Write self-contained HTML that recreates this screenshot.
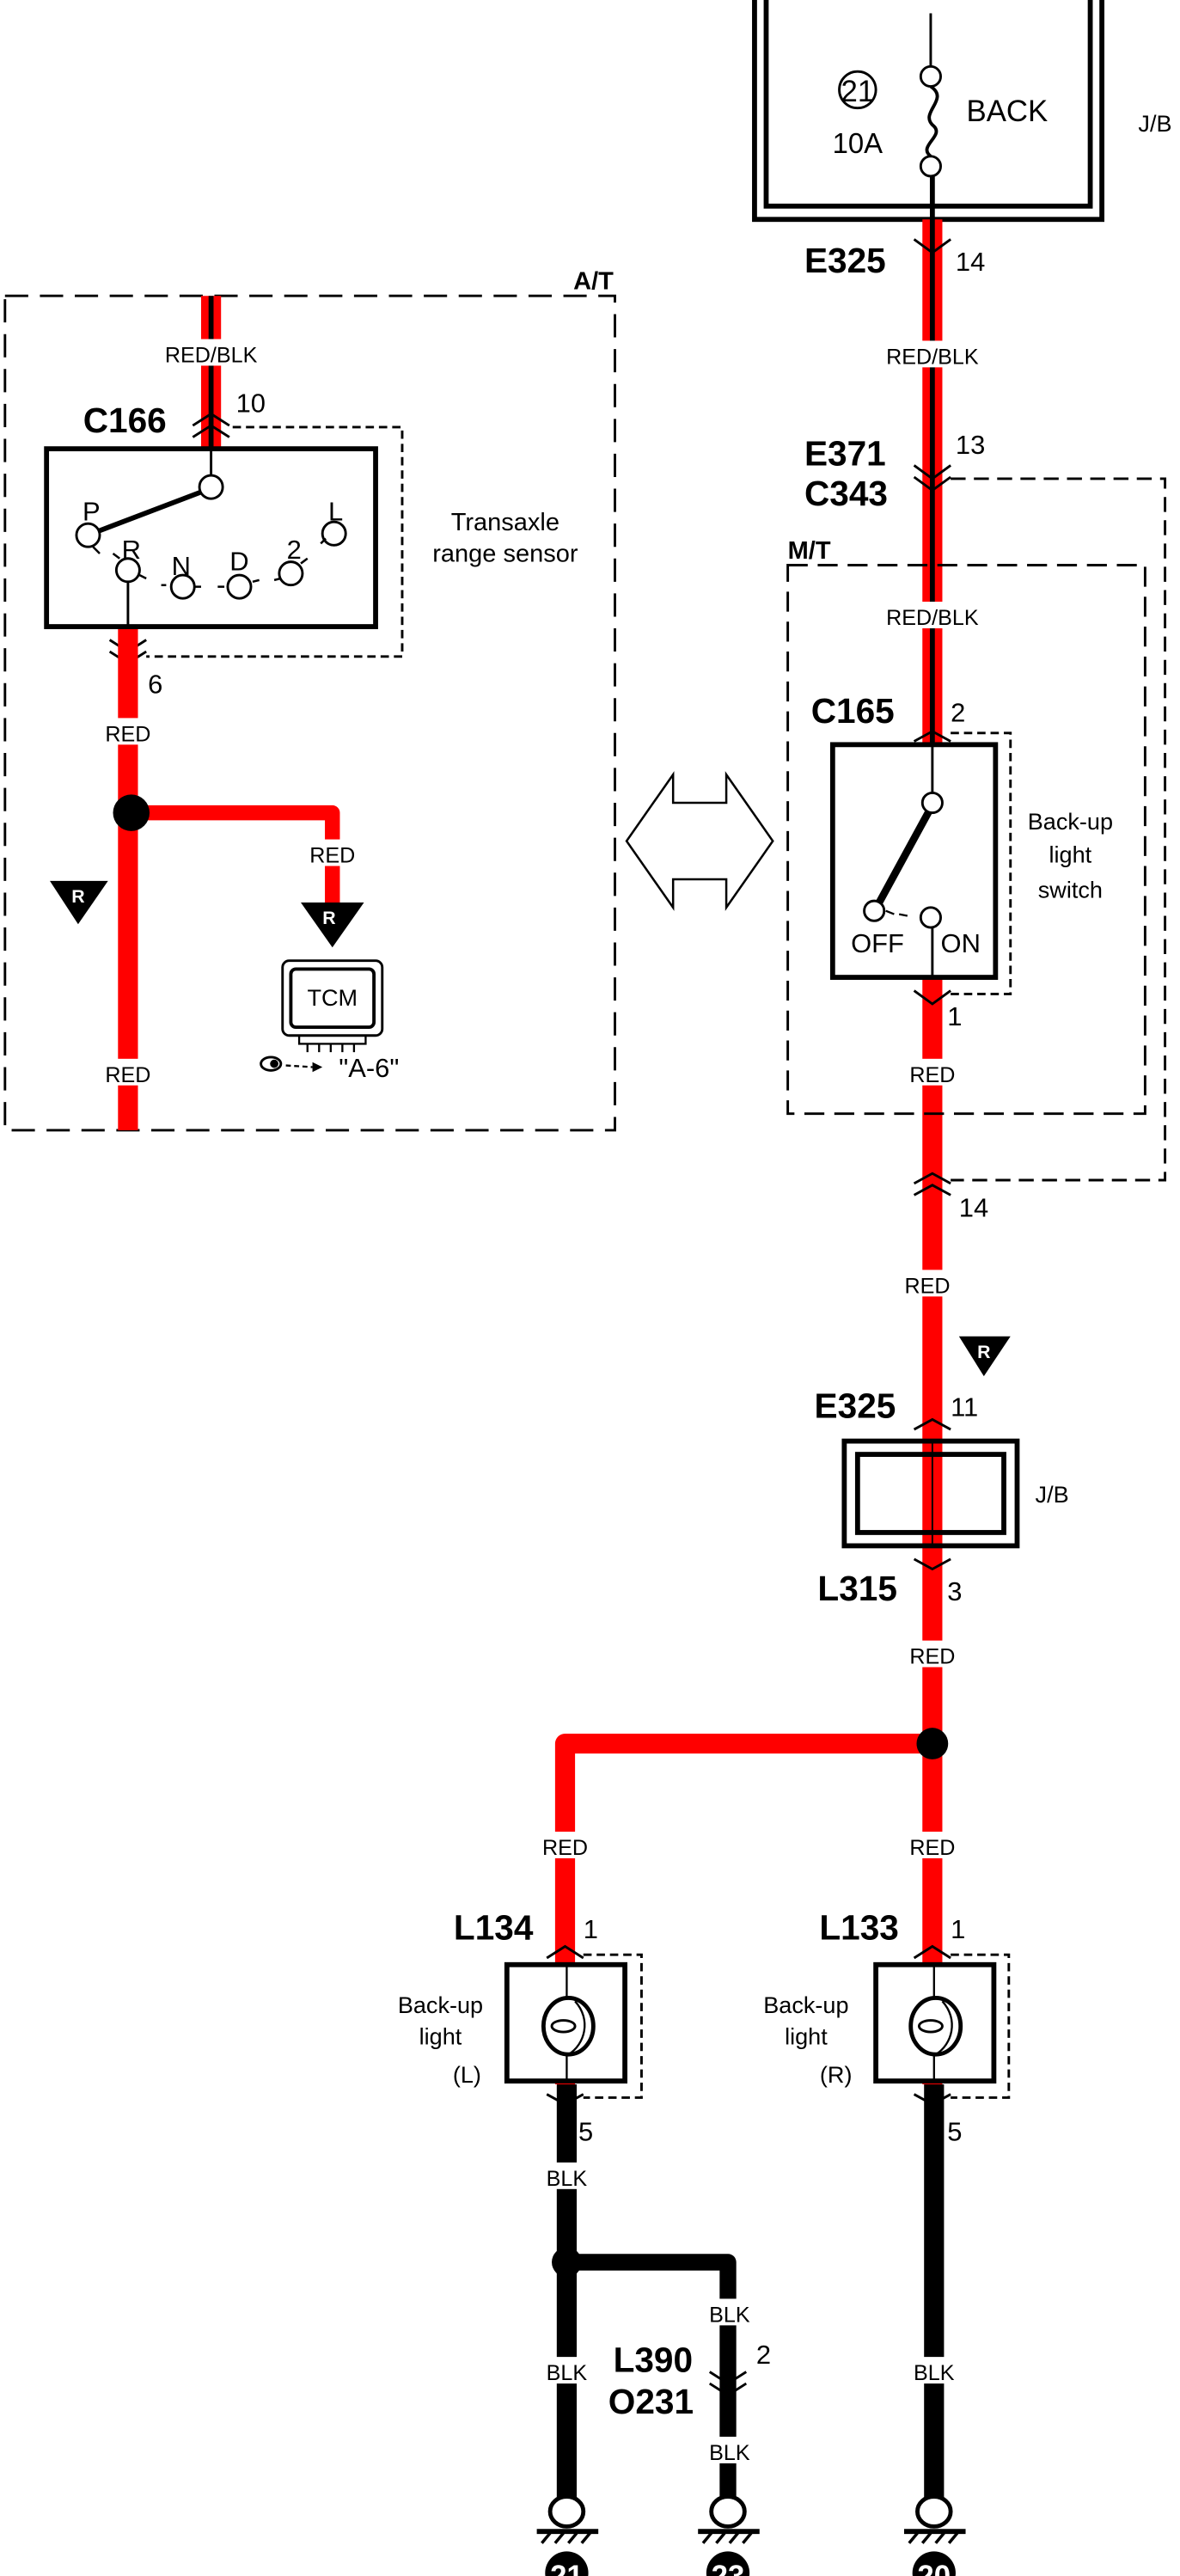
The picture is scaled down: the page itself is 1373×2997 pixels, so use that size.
<!DOCTYPE html>
<html><head><meta charset="utf-8"><style>
html,body{margin:0;padding:0;background:#fff}
svg{display:block}
text{font-family:"Liberation Sans",sans-serif;fill:#000}
.b{font-weight:bold;font-size:21px}
.n{font-size:16px}
.s{font-size:13px}
.m{font-size:14px}
</style></head><body>
<svg width="1373" height="2997" viewBox="0 0 710 1549.8" xmlns="http://www.w3.org/2000/svg">
<rect width="710" height="1550" fill="#fff"/>
<rect x="454" y="-10" width="209" height="142" fill="none" stroke="#000" stroke-width="3"/>
<rect x="461" y="-10" width="195" height="134" fill="none" stroke="#000" stroke-width="3"/>
<line x1="560" y1="8" x2="560" y2="40" stroke="#000" stroke-width="1.5"/>
<circle cx="560" cy="46" r="6" fill="#fff" stroke="#000" stroke-width="1.5"/>
<path d="M560 52 C572 60,552 68,562 76 C568 82,552 88,560 94" fill="none" stroke="#000" stroke-width="2"/>
<circle cx="560" cy="100" r="6" fill="#fff" stroke="#000" stroke-width="1.5"/>
<circle cx="516" cy="54" r="11" fill="none" stroke="#000" stroke-width="1.5"/>
<text x="516" y="61" class="n" text-anchor="middle" style="font-size:18px">21</text>
<text x="516" y="92" class="n" text-anchor="middle" style="font-size:17px">10A</text>
<text x="606" y="73" class="n" text-anchor="middle" style="font-size:18px">BACK</text>
<text x="695" y="79" class="m" text-anchor="middle">J/B</text>

<line x1="561" y1="132" x2="561" y2="1254" stroke="#f00" stroke-width="12"/>
<line x1="561" y1="106" x2="561" y2="588" stroke="#000" stroke-width="3"/>
<g fill="#fff">
<rect x="528" y="205" width="66" height="16"/>
<rect x="528" y="362" width="66" height="16"/>
<rect x="541" y="637" width="40" height="16"/>
<rect x="538" y="764" width="40" height="16"/>
<rect x="541" y="987" width="40" height="16"/>
<rect x="541" y="1102" width="40" height="16"/>
</g>
<text x="561" y="219" class="s" text-anchor="middle">RED/BLK</text>
<text x="561" y="376" class="s" text-anchor="middle">RED/BLK</text>
<text x="561" y="651" class="s" text-anchor="middle">RED</text>
<text x="558" y="778" class="s" text-anchor="middle">RED</text>
<text x="561" y="1001" class="s" text-anchor="middle">RED</text>
<text x="561" y="1116" class="s" text-anchor="middle">RED</text>
<g fill="none" stroke="#000" stroke-width="1.5">
<polyline points="550,144 561,152 572,144"/>
<polyline points="550,280 561,288 572,280"/>
<polyline points="550,287 561,295 572,287"/>
<polyline points="550,446 561,440 572,446"/>
<polyline points="550,596 561,604 572,596"/>
<polyline points="550,712 561,706 572,712"/>
<polyline points="550,719 561,713 572,719"/>
<polyline points="550,860 561,854 572,860"/>
<polyline points="550,938 561,944 572,938"/>
</g>
<text x="484" y="164" class="b">E325</text>
<text x="575" y="163" class="n">14</text>
<text x="484" y="280" class="b">E371</text>
<text x="484" y="304" class="b">C343</text>
<text x="575" y="273" class="n">13</text>
<polyline points="572,288 701,288 701,710 572,710" fill="none" stroke="#000" stroke-width="1.5" stroke-dasharray="9,5"/>
<rect x="474" y="340" width="215" height="330" fill="none" stroke="#000" stroke-width="1.5" stroke-dasharray="12,6"/>
<text x="474" y="336" class="n" style="font-weight:bold;font-size:15px">M/T</text>
<text x="488" y="435" class="b">C165</text>
<text x="572" y="434" class="n">2</text>
<polyline points="572,441 608,441 608,598 572,598" fill="none" stroke="#000" stroke-width="1.5" stroke-dasharray="5,3"/>
<rect x="501" y="448" width="98" height="140" fill="#fff" stroke="#000" stroke-width="3"/>
<line x1="561" y1="448" x2="561" y2="477" stroke="#000" stroke-width="1.5"/>
<line x1="561" y1="558" x2="561" y2="588" stroke="#000" stroke-width="1.5"/>
<line x1="559" y1="488" x2="529" y2="543" stroke="#000" stroke-width="4.5"/>
<circle cx="561" cy="483" r="6" fill="#fff" stroke="#000" stroke-width="1.5"/>
<circle cx="526" cy="548" r="6" fill="#fff" stroke="#000" stroke-width="1.5"/>
<circle cx="560" cy="552" r="6" fill="#fff" stroke="#000" stroke-width="1.5"/>
<path d="M533 548 L538 550 M541 550 L546 551" stroke="#000" stroke-width="1.2"/>
<text x="528" y="573" class="n" text-anchor="middle">OFF</text>
<text x="578" y="573" class="n" text-anchor="middle">ON</text>
<text x="644" y="499" class="m" text-anchor="middle">Back-up</text>
<text x="644" y="519" class="m" text-anchor="middle">light</text>
<text x="644" y="540" class="m" text-anchor="middle">switch</text>
<text x="570" y="617" class="n">1</text>
<text x="577" y="732" class="n">14</text>
<polygon points="577,804 608,804 592,828" fill="#000"/>
<text x="592" y="817" style="fill:#fff;font-weight:bold;font-size:11px" text-anchor="middle">R</text>
<text x="490" y="853" class="b">E325</text>
<text x="572" y="852" class="n">11</text>
<rect x="508" y="867" width="104" height="63" fill="none" stroke="#000" stroke-width="3"/>
<rect x="516" y="875" width="88" height="47" fill="none" stroke="#000" stroke-width="3"/>
<line x1="561" y1="867" x2="561" y2="930" stroke="#000" stroke-width="1"/>
<text x="633" y="904" class="m" text-anchor="middle">J/B</text>
<text x="492" y="963" class="b">L315</text>
<text x="570" y="963" class="n">3</text>
<path d="M561 1049 L340 1049 L340 1254" fill="none" stroke="#f00" stroke-width="12" stroke-linejoin="round"/>
<rect x="320" y="1102" width="40" height="16" fill="#fff"/>
<text x="340" y="1116" class="s" text-anchor="middle">RED</text>
<circle cx="561" cy="1049" r="9.5" fill="#000"/>
<text x="273" y="1167" class="b">L134</text>
<text x="351" y="1166" class="n">1</text>
<text x="493" y="1167" class="b">L133</text>
<text x="572" y="1166" class="n">1</text>
<g fill="none" stroke="#000" stroke-width="1.5">
<polyline points="329,1178 340,1171 351,1178"/>
<polyline points="550,1178 561,1171 572,1178"/>
<polyline points="329,1260 340,1266 351,1260"/>
<polyline points="550,1260 561,1266 572,1260"/>
</g>
<polyline points="351,1176 386,1176 386,1262 351,1262" fill="none" stroke="#000" stroke-width="1.5" stroke-dasharray="5,3"/>
<polyline points="572,1176 607,1176 607,1262 572,1262" fill="none" stroke="#000" stroke-width="1.5" stroke-dasharray="5,3"/>
<line x1="341" y1="1254" x2="341" y2="1510" stroke="#000" stroke-width="12"/>
<line x1="562" y1="1254" x2="562" y2="1510" stroke="#000" stroke-width="12"/>
<path d="M341 1361 L438 1361 L438 1510" fill="none" stroke="#000" stroke-width="10" stroke-linejoin="round"/>
<circle cx="341" cy="1361" r="9" fill="#000"/>
<rect x="305" y="1182" width="71" height="70" fill="#fff" stroke="#000" stroke-width="3"/>
<rect x="527" y="1182" width="71" height="70" fill="#fff" stroke="#000" stroke-width="3"/>
<g stroke="#000" fill="none">
<line x1="341" y1="1182" x2="341" y2="1252" stroke-width="1.2"/>
<line x1="562" y1="1182" x2="562" y2="1252" stroke-width="1.2"/>
<ellipse cx="342" cy="1219" rx="15" ry="17" fill="#fff" stroke-width="2.5"/>
<ellipse cx="563" cy="1219" rx="15" ry="17" fill="#fff" stroke-width="2.5"/>
<ellipse cx="339" cy="1219" rx="7" ry="3.5" stroke-width="1.5"/>
<ellipse cx="560" cy="1219" rx="7" ry="3.5" stroke-width="1.5"/>
<path d="M346 1204 C356 1215,352 1230,342 1236" stroke-width="1.2"/>
<path d="M567 1204 C577 1215,573 1230,563 1236" stroke-width="1.2"/>
</g>
<text x="265" y="1211" class="m" text-anchor="middle">Back-up</text>
<text x="265" y="1230" class="m" text-anchor="middle">light</text>
<text x="281" y="1253" class="m" text-anchor="middle">(L)</text>
<text x="485" y="1211" class="m" text-anchor="middle">Back-up</text>
<text x="485" y="1230" class="m" text-anchor="middle">light</text>
<text x="503" y="1253" class="m" text-anchor="middle">(R)</text>
<text x="348" y="1288" class="n">5</text>
<text x="570" y="1288" class="n">5</text>
<g fill="#fff">
<rect x="322" y="1301" width="38" height="16"/>
<rect x="322" y="1418" width="38" height="16"/>
<rect x="421" y="1383" width="36" height="16"/>
<rect x="421" y="1466" width="36" height="16"/>
<rect x="543" y="1418" width="38" height="16"/>
</g>
<text x="341" y="1315" class="s" text-anchor="middle">BLK</text>
<text x="341" y="1432" class="s" text-anchor="middle">BLK</text>
<text x="439" y="1397" class="s" text-anchor="middle">BLK</text>
<text x="439" y="1480" class="s" text-anchor="middle">BLK</text>
<text x="562" y="1432" class="s" text-anchor="middle">BLK</text>
<text x="369" y="1427" class="b">L390</text>
<text x="366" y="1452" class="b">O231</text>
<text x="455" y="1422" class="n">2</text>
<g fill="none" stroke="#000" stroke-width="1.5">
<polyline points="427,1427 438,1434 449,1427"/>
<polyline points="427,1434 438,1441 449,1434"/>
</g>
<g stroke="#000" fill="#fff">
<ellipse cx="341" cy="1511" rx="10" ry="9" stroke-width="2.5"/>
<ellipse cx="438" cy="1511" rx="10" ry="9" stroke-width="2.5"/>
<ellipse cx="562" cy="1511" rx="10" ry="9" stroke-width="2.5"/>
<line x1="323" y1="1523" x2="360" y2="1523" stroke-width="3"/>
<line x1="420" y1="1523" x2="457" y2="1523" stroke-width="3"/>
<line x1="544" y1="1523" x2="581" y2="1523" stroke-width="3"/>
<path d="M331 1524 l-5 6 M339 1524 l-5 6 M347 1524 l-5 6 M355 1524 l-5 6 M428 1524 l-5 6 M436 1524 l-5 6 M444 1524 l-5 6 M452 1524 l-5 6 M552 1524 l-5 6 M560 1524 l-5 6 M568 1524 l-5 6 M576 1524 l-5 6" stroke-width="1.8"/>
</g>
<circle cx="341" cy="1548" r="13" fill="#000"/>
<circle cx="438" cy="1548" r="13" fill="#000"/>
<circle cx="562" cy="1548" r="13" fill="#000"/>
<text x="341" y="1556" text-anchor="middle" style="fill:#fff;font-weight:bold;font-size:18px">21</text>
<text x="438" y="1556" text-anchor="middle" style="fill:#fff;font-weight:bold;font-size:18px">23</text>
<text x="562" y="1556" text-anchor="middle" style="fill:#fff;font-weight:bold;font-size:18px">20</text>

<rect x="3" y="178" width="367" height="502" fill="none" stroke="#000" stroke-width="1.5" stroke-dasharray="14,7"/>
<text x="345" y="174" class="n" style="font-weight:bold;font-size:15px">A/T</text>
<line x1="127" y1="178" x2="127" y2="270" stroke="#f00" stroke-width="12"/>
<line x1="127" y1="178" x2="127" y2="287" stroke="#000" stroke-width="3"/>
<rect x="100" y="204" width="56" height="16" fill="#fff"/>
<text x="127" y="218" class="s" text-anchor="middle">RED/BLK</text>
<text x="50" y="260" class="b">C166</text>
<text x="142" y="248" class="n">10</text>
<g fill="none" stroke="#000" stroke-width="1.5">
<polyline points="116,256 127,249 138,256"/>
<polyline points="116,263 127,256 138,263"/>
<polyline points="66,385 77,392 88,385"/>
<polyline points="66,392 77,399 88,392"/>
</g>
<polyline points="140,257 242,257 242,395 88,395" fill="none" stroke="#000" stroke-width="1.5" stroke-dasharray="5,3"/>
<line x1="77" y1="373" x2="77" y2="680" stroke="#f00" stroke-width="12"/>
<rect x="28" y="270" width="198" height="107" fill="#fff" stroke="#000" stroke-width="3"/>
<line x1="127" y1="270" x2="127" y2="287" stroke="#000" stroke-width="1.5"/>
<line x1="77" y1="349" x2="77" y2="377" stroke="#000" stroke-width="1.5"/>
<line x1="121" y1="296" x2="58" y2="320" stroke="#000" stroke-width="3"/>
<g fill="#fff" stroke="#000" stroke-width="1.5">
<circle cx="127" cy="293" r="7"/>
<circle cx="53" cy="322" r="7"/>
<circle cx="77" cy="343" r="7"/>
<circle cx="110" cy="353" r="7"/>
<circle cx="144" cy="353" r="7"/>
<circle cx="175" cy="345" r="7"/>
<circle cx="201" cy="321" r="7"/>
</g>
<path d="M56 329 l4 4 M68 333 l4 3 M84 346 l4 2 M97 352 l3 0 M117 353 l4 0 M131 353 l4 0 M152 350 l4 -1 M165 349 l4 -1 M181 339 l4 -3 M193 327 l3 -3" stroke="#000" stroke-width="1.3"/>
<text x="55" y="313" class="n" text-anchor="middle">P</text>
<text x="79" y="336" class="n" text-anchor="middle">R</text>
<text x="109" y="346" class="n" text-anchor="middle">N</text>
<text x="144" y="343" class="n" text-anchor="middle">D</text>
<text x="177" y="336" class="n" text-anchor="middle">2</text>
<text x="202" y="313" class="n" text-anchor="middle">L</text>
<text x="304" y="319" class="m" text-anchor="middle" style="font-size:15px">Transaxle</text>
<text x="304" y="338" class="m" text-anchor="middle" style="font-size:15px">range sensor</text>
<text x="89" y="417" class="n">6</text>
<rect x="58" y="432" width="40" height="16" fill="#fff"/>
<text x="77" y="446" class="s" text-anchor="middle">RED</text>
<rect x="58" y="637" width="40" height="16" fill="#fff"/>
<text x="77" y="651" class="s" text-anchor="middle">RED</text>
<path d="M79 489 L200 489 L200 545" fill="none" stroke="#f00" stroke-width="9" stroke-linejoin="round"/>
<rect x="181" y="505" width="40" height="16" fill="#fff"/>
<text x="200" y="519" class="s" text-anchor="middle">RED</text>
<circle cx="79" cy="489" r="11" fill="#000"/>
<polygon points="30,530 65,530 47,556" fill="#000"/>
<text x="47" y="543" style="fill:#fff;font-weight:bold;font-size:11px" text-anchor="middle">R</text>
<polygon points="181,543 219,543 200,570" fill="#000"/>
<text x="198" y="556" style="fill:#fff;font-weight:bold;font-size:11px" text-anchor="middle">R</text>
<rect x="170" y="578" width="60" height="45" rx="4" fill="#fff" stroke="#000" stroke-width="1.5"/>
<rect x="175" y="583" width="50" height="35" rx="3" fill="#fff" stroke="#000" stroke-width="2"/>
<text x="200" y="605" class="m" text-anchor="middle">TCM</text>
<rect x="180" y="623" width="40" height="5" fill="none" stroke="#000" stroke-width="1.2"/>
<path d="M185 628 v5 M192 628 v5 M199 628 v5 M206 628 v5 M213 628 v5" stroke="#000" stroke-width="1.2"/>
<ellipse cx="163" cy="640" rx="6" ry="4" fill="none" stroke="#000" stroke-width="1.5"/>
<circle cx="165" cy="640" r="2.5" fill="#000"/>
<path d="M172 641 l16 1" stroke="#000" stroke-width="1.2" stroke-dasharray="3,2"/>
<polygon points="188,639 194,642 188,645" fill="#000"/>
<text x="222" y="648" class="n" text-anchor="middle">"A-6"</text>

<polygon points="377,506 405,466 405,483 437,483 437,466 465,506 437,546 437,529 405,529 405,546" fill="#fff" stroke="#000" stroke-width="1.3"/>
</svg>
</body></html>
